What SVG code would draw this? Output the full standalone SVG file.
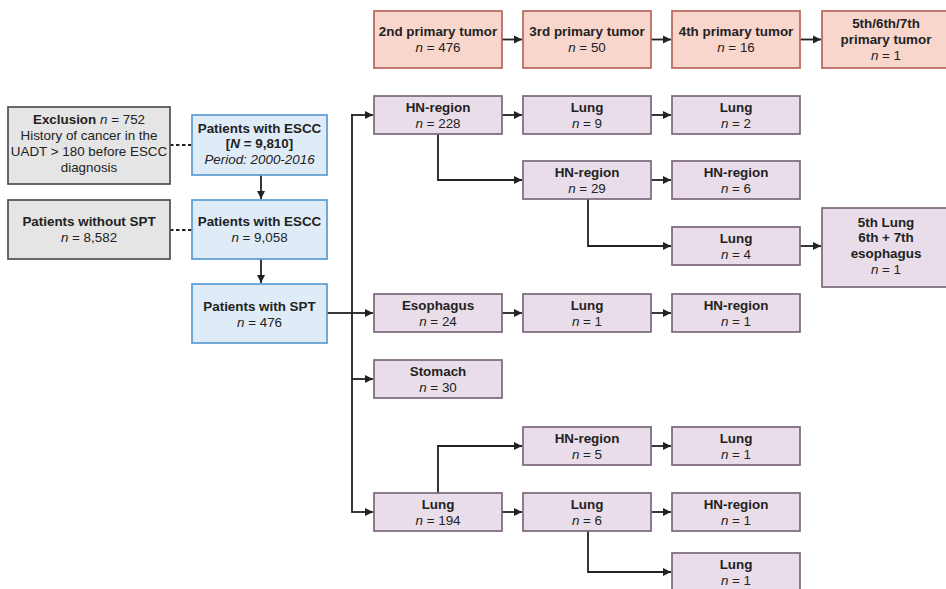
<svg xmlns="http://www.w3.org/2000/svg" width="946" height="589" viewBox="0 0 946 589">
<style>
text{font-family:"Liberation Sans",Arial,sans-serif;font-size:13.4px;fill:#222;text-anchor:middle}
.b{font-weight:bold}
.i{font-style:italic}
.red{fill:#f8d6cc;stroke:#b5655a;stroke-width:1.7}
.pur{fill:#e9dde9;stroke:#7a677c;stroke-width:1.7}
.blu{fill:#dfecf8;stroke:#5b9bd3;stroke-width:1.7}
.gry{fill:#e5e5e5;stroke:#505050;stroke-width:1.7}
.c{fill:none;stroke:#222;stroke-width:1.8}
.d{fill:none;stroke:#222;stroke-width:1.8;stroke-dasharray:3.5 2.5}
</style>
<defs>
<marker id="ah" markerUnits="userSpaceOnUse" markerWidth="9" markerHeight="9" refX="8" refY="4.5" orient="auto">
<path d="M0,0.5 L8,4.5 L0,8.5 Z" fill="#222"/>
</marker>
</defs>
<rect width="946" height="589" fill="#fff"/>

<g id="connectors">
<path class="c" d="M502,39.5 H522" marker-end="url(#ah)"/>
<path class="c" d="M651,39.5 H671" marker-end="url(#ah)"/>
<path class="c" d="M800,39.5 H821" marker-end="url(#ah)"/>
<path class="d" d="M170,145 H192"/>
<path class="d" d="M170,230 H192"/>
<path class="c" d="M261,175 V199" marker-end="url(#ah)"/>
<path class="c" d="M261,259 V283" marker-end="url(#ah)"/>
<path class="c" d="M327,313 H352"/>
<path class="c" d="M352,114 V512"/>
<path class="c" d="M351.1,115 H373" marker-end="url(#ah)"/>
<path class="c" d="M352,313 H373" marker-end="url(#ah)"/>
<path class="c" d="M352,379 H373" marker-end="url(#ah)"/>
<path class="c" d="M351.1,512 H373" marker-end="url(#ah)"/>
<path class="c" d="M502,115 H522" marker-end="url(#ah)"/>
<path class="c" d="M651,115 H671" marker-end="url(#ah)"/>
<path class="c" d="M438,134 V180 H522" marker-end="url(#ah)"/>
<path class="c" d="M651,180 H671" marker-end="url(#ah)"/>
<path class="c" d="M588,199 V246 H671" marker-end="url(#ah)"/>
<path class="c" d="M800,246 H821" marker-end="url(#ah)"/>
<path class="c" d="M502,313 H522" marker-end="url(#ah)"/>
<path class="c" d="M651,313 H671" marker-end="url(#ah)"/>
<path class="c" d="M438,493 V446 H522" marker-end="url(#ah)"/>
<path class="c" d="M651,446 H671" marker-end="url(#ah)"/>
<path class="c" d="M502,512 H522" marker-end="url(#ah)"/>
<path class="c" d="M651,512 H671" marker-end="url(#ah)"/>
<path class="c" d="M588,531 V572 H671" marker-end="url(#ah)"/>
</g>

<g id="t2"><rect class="red" x="374" y="11" width="128" height="57"/><text class="b" x="438" y="36">2nd primary tumor</text><text x="438" y="52"><tspan class="i">n</tspan> = 476</text></g>
<g id="t3"><rect class="red" x="523" y="11" width="128" height="57"/><text class="b" x="587" y="36">3rd primary tumor</text><text x="587" y="52"><tspan class="i">n</tspan> = 50</text></g>
<g id="t4"><rect class="red" x="672" y="11" width="128" height="57"/><text class="b" x="736" y="36">4th primary tumor</text><text x="736" y="52"><tspan class="i">n</tspan> = 16</text></g>
<g id="t5"><rect class="red" x="822" y="11" width="128" height="57"/><text class="b" x="886" y="27.5">5th/6th/7th</text><text class="b" x="886" y="43.5">primary tumor</text><text x="886" y="59.5"><tspan class="i">n</tspan> = 1</text></g>

<g id="excl"><rect class="gry" x="8" y="107" width="162" height="77"/><text x="89" y="123.5"><tspan class="b">Exclusion</tspan> <tspan class="i">n</tspan> = 752</text><text x="89" y="139.5">History of cancer in the</text><text x="89" y="155.5">UADT &gt; 180 before ESCC</text><text x="89" y="171.5">diagnosis</text></g>
<g id="nospt"><rect class="gry" x="8" y="200" width="162" height="59"/><text class="b" x="89" y="225.5">Patients without SPT</text><text x="89" y="241.5"><tspan class="i">n</tspan> = 8,582</text></g>

<g id="escc1"><rect class="blu" x="192" y="115" width="135" height="60"/><text class="b" x="259.5" y="132.5">Patients with ESCC</text><text class="b" x="259.5" y="148">[<tspan class="i">N</tspan> = 9,810]</text><text class="i" x="259.5" y="163.5">Period: 2000-2016</text></g>
<g id="escc2"><rect class="blu" x="192" y="200" width="135" height="59"/><text class="b" x="259.5" y="225.5">Patients with ESCC</text><text x="259.5" y="242"><tspan class="i">n</tspan> = 9,058</text></g>
<g id="spt"><rect class="blu" x="192" y="284" width="135" height="59"/><text class="b" x="259.5" y="310.5">Patients with SPT</text><text x="259.5" y="326.5"><tspan class="i">n</tspan> = 476</text></g>

<g id="hn228"><rect class="pur" x="374" y="96" width="128" height="38"/><text class="b" x="438" y="111.5">HN-region</text><text x="438" y="127.5"><tspan class="i">n</tspan> = 228</text></g>
<g id="lung9"><rect class="pur" x="523" y="96" width="128" height="38"/><text class="b" x="587" y="111.5">Lung</text><text x="587" y="127.5"><tspan class="i">n</tspan> = 9</text></g>
<g id="lung2"><rect class="pur" x="672" y="96" width="128" height="38"/><text class="b" x="736" y="111.5">Lung</text><text x="736" y="127.5"><tspan class="i">n</tspan> = 2</text></g>

<g id="hn29"><rect class="pur" x="523" y="161" width="128" height="38"/><text class="b" x="587" y="176.5">HN-region</text><text x="587" y="192.5"><tspan class="i">n</tspan> = 29</text></g>
<g id="hn6"><rect class="pur" x="672" y="161" width="128" height="38"/><text class="b" x="736" y="176.5">HN-region</text><text x="736" y="192.5"><tspan class="i">n</tspan> = 6</text></g>

<g id="lung4"><rect class="pur" x="672" y="227" width="128" height="38"/><text class="b" x="736" y="242.5">Lung</text><text x="736" y="258.5"><tspan class="i">n</tspan> = 4</text></g>
<g id="fifth"><rect class="pur" x="822" y="208" width="128" height="79"/><text class="b" x="886" y="226.5">5th Lung</text><text class="b" x="886" y="242">6th + 7th</text><text class="b" x="886" y="258">esophagus</text><text x="886" y="274"><tspan class="i">n</tspan> = 1</text></g>

<g id="eso24"><rect class="pur" x="374" y="294" width="128" height="38"/><text class="b" x="438" y="309.5">Esophagus</text><text x="438" y="325.5"><tspan class="i">n</tspan> = 24</text></g>
<g id="lung1a"><rect class="pur" x="523" y="294" width="128" height="38"/><text class="b" x="587" y="309.5">Lung</text><text x="587" y="325.5"><tspan class="i">n</tspan> = 1</text></g>
<g id="hn1a"><rect class="pur" x="672" y="294" width="128" height="38"/><text class="b" x="736" y="309.5">HN-region</text><text x="736" y="325.5"><tspan class="i">n</tspan> = 1</text></g>

<g id="stomach"><rect class="pur" x="374" y="360" width="128" height="38"/><text class="b" x="438" y="375.5">Stomach</text><text x="438" y="391.5"><tspan class="i">n</tspan> = 30</text></g>

<g id="hn5"><rect class="pur" x="523" y="427" width="128" height="38"/><text class="b" x="587" y="442.5">HN-region</text><text x="587" y="458.5"><tspan class="i">n</tspan> = 5</text></g>
<g id="lung1b"><rect class="pur" x="672" y="427" width="128" height="38"/><text class="b" x="736" y="442.5">Lung</text><text x="736" y="458.5"><tspan class="i">n</tspan> = 1</text></g>

<g id="lung194"><rect class="pur" x="374" y="493" width="128" height="38"/><text class="b" x="438" y="508.5">Lung</text><text x="438" y="524.5"><tspan class="i">n</tspan> = 194</text></g>
<g id="lung6"><rect class="pur" x="523" y="493" width="128" height="38"/><text class="b" x="587" y="508.5">Lung</text><text x="587" y="524.5"><tspan class="i">n</tspan> = 6</text></g>
<g id="hn1b"><rect class="pur" x="672" y="493" width="128" height="38"/><text class="b" x="736" y="508.5">HN-region</text><text x="736" y="524.5"><tspan class="i">n</tspan> = 1</text></g>

<g id="lung1c"><rect class="pur" x="672" y="553" width="128" height="38"/><text class="b" x="736" y="568.5">Lung</text><text x="736" y="584.5"><tspan class="i">n</tspan> = 1</text></g>
</svg>
